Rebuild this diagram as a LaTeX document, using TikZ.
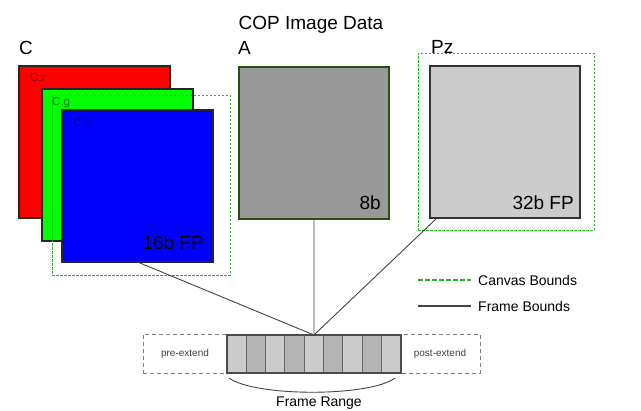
\documentclass[tikz,border=0pt]{standalone}
\usepackage{fontspec}
\usepackage{xcolor}
\setmainfont{Liberation Sans}

\definecolor{canvasgreen}{RGB}{40,175,40}
\definecolor{agreen}{RGB}{39,78,19}
\definecolor{linegray}{RGB}{68,68,68}
\definecolor{celllight}{RGB}{204,204,204}
\definecolor{celldark}{RGB}{180,180,180}

\tikzset{
  plane/.style={draw=black!85, line width=1.3pt, inner sep=0pt, outer sep=0pt,
    minimum width=151pt, minimum height=152pt, anchor=north west},
  canvas/.style={draw=canvasgreen, line width=0.9pt, dash pattern=on 2.5pt off 1.5pt,
    inner sep=0pt, anchor=north west},
  cell/.style={draw=black!60, line width=1pt, inner sep=0pt, outer sep=0pt,
    minimum width=19.33pt, minimum height=38pt, anchor=north west},
  conn/.style={draw=linegray, line width=0.9pt},
  big/.style={font=\fontsize{19}{22}\selectfont, inner sep=0pt},
  sub/.style={font=\fontsize{11.5}{13}\selectfont, text=black, text opacity=0.5, inner sep=0pt, anchor=base west},
}

\begin{document}
\begin{tikzpicture}[x=1pt, y=-1pt]
  \useasboundingbox (0,0) rectangle (641,411);

  % title and plane names
  \node[big, anchor=base] (title) at (311,30) {COP Image Data};
  \node[big, anchor=base west] (lc) at (19,55) {C};
  \node[big, anchor=base west] (la) at (238,55) {A};
  \node[big, anchor=base west] (lpz) at (431,54) {Pz};

  % C planes
  \node[plane, fill=red] (cr) at (19,66) {};
  \node[sub] at (30,82) {C.r};
  \node[plane, fill=green] (cg) at (42,89) {};
  \node[sub] at (52,106) {C.g};
  \node[canvas, minimum width=178pt, minimum height=180pt] (cc) at (52,95) {};
  \node[plane, fill=blue] (cb) at (62,110) {};
  \node[sub] at (73,127) {C.b};
  \node[big, anchor=base east] (cbits) at (204,250) {16b FP};

  % A plane
  \node[plane, fill=black!40, draw=agreen, minimum width=150pt] (a) at (239,67) {};
  \node[big, anchor=base east] (abits) at (381,210) {8b};

  % Pz plane
  \node[canvas, minimum width=176pt, minimum height=177pt] (pzc) at (418,53) {};
  \node[plane, fill=celllight, draw=black!80, minimum width=150pt] (pz) at (430,66) {};
  \node[big, anchor=base east] (pzbits) at (574,210) {32b FP};

  % legend
  \coordinate (g1) at (418,280);
  \coordinate (g2) at (471,280);
  \coordinate (k1) at (418,306);
  \coordinate (k2) at (471,306);
  \draw[draw=canvasgreen, line width=1.2pt, dash pattern=on 4.5pt off 2.5pt] (g1) -- (g2);
  \draw[conn, line width=1.3pt] (k1) -- (k2);
  \node[font=\fontsize{14}{16}\selectfont, anchor=west, inner sep=0pt] (lgc) at (478,280) {Canvas Bounds};
  \node[font=\fontsize{14}{16}\selectfont, anchor=west, inner sep=0pt] (lgf) at (478,306) {Frame Bounds};

  % frame range
  \node[draw=black!50, line width=0.8pt, dash pattern=on 4pt off 3pt, inner sep=0pt,
    minimum width=337pt, minimum height=39pt, anchor=north west] (ext) at (143,334) {};
  \node[font=\fontsize{10}{12}\selectfont, text=black!75] (pre) at (185,354) {pre-extend};
  \node[font=\fontsize{10}{12}\selectfont, text=black!75] (post) at (440,354) {post-extend};
  \foreach \i in {1,...,9} {
    \pgfmathsetmacro{\cx}{227+(\i-1)*19.33}
    \ifodd\i
      \node[cell, fill=celllight] (c\i) at (\cx,335) {};
    \else
      \node[cell, fill=celldark] (c\i) at (\cx,335) {};
    \fi
  }
  \draw[draw=black!70, line width=1.3pt] (c1.north west) rectangle (c9.south east);

  \coordinate (rl) at (229,378);
  \coordinate (rr) at (395,378);
  \draw[conn] (rl) .. controls (255,397) and (370,397) .. (rr);
  \node[font=\fontsize{14}{16}\selectfont, anchor=base] (range) at (319,407) {Frame Range};

  % connectors
  \draw[conn] (cb.south) -- (c5.north);
  \draw[conn] (a.south) -- (c5.north);
  \draw[conn] ([xshift=7pt]pz.south west) -- (c5.north);
\end{tikzpicture}
\end{document}
